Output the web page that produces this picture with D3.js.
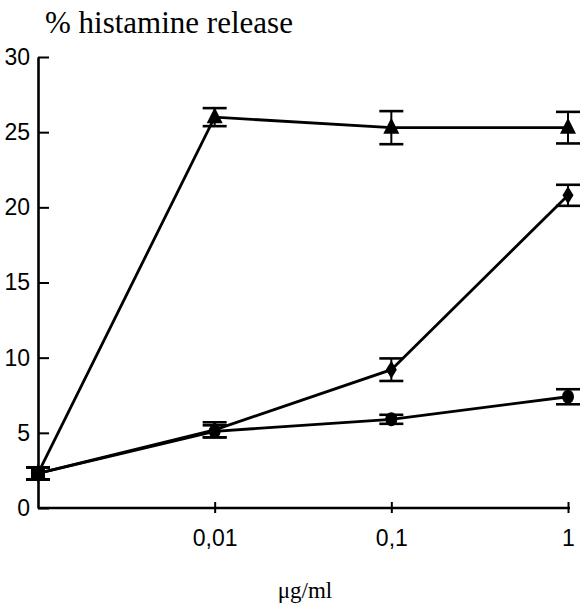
<!DOCTYPE html>
<html><head><meta charset="utf-8">
<script src="https://cdn.jsdelivr.net/npm/d3@7"></script>
<style>body{margin:0;background:#fff}svg{display:block}</style>
</head><body><div id="c"></div>
<script>
const doses = [0.001, 0.01, 0.1, 1];
const xTickValues = [0.01, 0.1, 1];
const xTickLabels = ["0,01", "0,1", "1"];
const yTickValues = [0, 5, 10, 15, 20, 25, 30];
const triangleValues = [2.3, 26.0, 25.3, 25.3];
const triangleErrors = [0.4, 0.6, 1.1, 1.05];
const diamondValues = [2.3, 5.2, 9.2, 20.8];
const diamondErrors = [0.4, 0.5, 0.75, 0.7];
const circleValues = [2.3, 5.1, 5.9, 7.4];
const circleErrors = [0.4, 0.4, 0.3, 0.5];
const titleText = "% histamine release";
const xTitle = "μg/ml";

const W = 582, H = 605;
const svg = d3.select("#c").append("svg").attr("width", W).attr("height", H);
const x = d3.scaleLog().domain([0.001, 1]).range([38, 568]);
const y = d3.scaleLinear().domain([0, 30]).range([508, 57]);
const sans = "'Liberation Sans', Arial, sans-serif";
const serif = "'Liberation Serif', 'Times New Roman', 'DejaVu Serif', serif";

// axes
const yAxis = d3.axisLeft(y).tickValues(yTickValues).tickSize(-11).tickPadding(8).tickSizeOuter(0);
const gy = svg.append("g").attr("transform", `translate(${x(0.001)},0)`).call(yAxis);
gy.select(".domain").attr("stroke-width", 2.6);
gy.selectAll(".tick line").attr("stroke-width", 2);
gy.selectAll("text").style("font-family", sans).style("font-size", "23px").attr("fill", "#000");

const xAxis = d3.axisBottom(x).tickValues(xTickValues).tickFormat((d, i) => xTickLabels[i]).tickSize(5).tickPadding(17).tickSizeOuter(0);
const gx = svg.append("g").attr("transform", `translate(0,${y(0)})`).call(xAxis);
gx.select(".domain").attr("stroke-width", 2.6).attr("d", `M${x(0.001)},0H${x(1)+2}`);
gx.selectAll(".tick line").attr("stroke-width", 2).attr("y1", -6).attr("y2", 5);
gx.selectAll("text").style("font-family", sans).style("font-size", "23px").attr("fill", "#000");

// titles
svg.append("text").attr("x", 45).attr("y", 33).style("font-family", serif).style("font-size", "31px").text(titleText);
svg.append("text").attr("x", 305).attr("y", 598).attr("text-anchor", "middle").style("font-family", serif).style("font-size", "23px").text(xTitle);

const series = [
  {vals: circleValues, errs: circleErrors, shape: "circle"},
  {vals: diamondValues, errs: diamondErrors, shape: "diamond"},
  {vals: triangleValues, errs: triangleErrors, shape: "triangle"}
];
const line = d3.line().x(d => x(d.x)).y(d => y(d.y));
const capW = 12;
series.forEach(s => {
  const pts = doses.map((d, i) => ({x: d, y: s.vals[i], e: s.errs[i]}));
  const g = svg.append("g");
  g.append("path").datum(pts).attr("d", line).attr("fill", "none").attr("stroke", "#000").attr("stroke-width", 2.8);
  pts.forEach(p => {
    const cx = x(p.x), y1 = y(p.y + p.e), y2 = y(p.y - p.e);
    g.append("line").attr("x1", cx).attr("x2", cx).attr("y1", y1).attr("y2", y2).attr("stroke", "#000").attr("stroke-width", 2);
    [y1, y2].forEach(yy => g.append("line").attr("x1", cx - capW).attr("x2", cx + capW).attr("y1", yy).attr("y2", yy).attr("stroke", "#000").attr("stroke-width", 2.6));
    const cy = y(p.y);
    if (s.shape === "circle") {
      g.append("ellipse").attr("cx", cx).attr("cy", cy).attr("rx", 6).attr("ry", 7).attr("fill", "#000");
    } else if (s.shape === "diamond") {
      g.append("path").attr("d", `M${cx},${cy-9}L${cx+5.5},${cy}L${cx},${cy+9}L${cx-5.5},${cy}Z`).attr("fill", "#000");
    } else {
      g.append("path").attr("d", `M${cx},${cy-10}L${cx+8},${cy+6}L${cx-8},${cy+6}Z`).attr("fill", "#000");
    }
  });
});
// first point appears as a square blob
svg.append("rect").attr("x", x(0.001) - 7).attr("y", y(2.3) - 7).attr("width", 14).attr("height", 14).attr("fill", "#000");
</script></body></html>
